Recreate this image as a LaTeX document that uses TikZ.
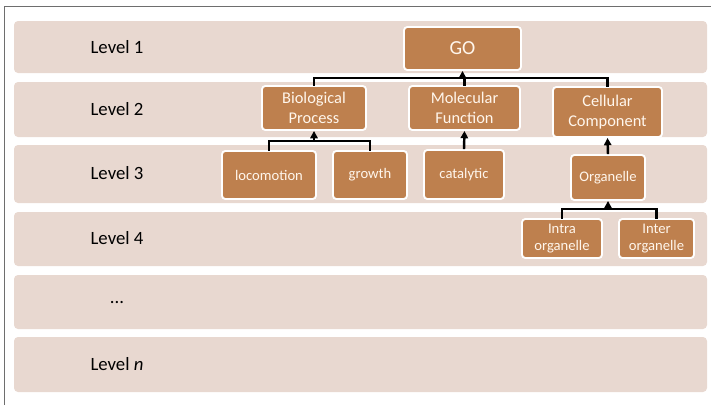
\documentclass[tikz,border=0pt]{standalone}
\usepackage{fontspec}
\setmainfont{Carlito}
\usepackage{tikz}
\usetikzlibrary{arrows.meta}

\definecolor{bandbg}{HTML}{E8D8D0}
\definecolor{gobrown}{HTML}{BE804E}
\definecolor{gotext}{HTML}{FFF6EC}
\definecolor{framegray}{HTML}{6E6E6E}

\begin{document}
\begin{tikzpicture}[x=0.3mm, y=-0.3mm,
  band/.style={fill=bandbg, rounded corners=1.2mm},
  lvl/.style={font=\fontsize{16}{19}\selectfont, text=black, inner sep=0pt},
  gobox/.style={draw=white, line width=1.6pt, fill=gobrown, rounded corners=1mm,
    text=gotext, align=center, inner sep=0pt, font=\fontsize{14}{16.5}\selectfont},
  leafbox/.style={gobox, font=\fontsize{12.5}{15}\selectfont},
  link/.style={line width=2.1pt, line cap=rect},
  arr/.style={line width=2.1pt, -{Triangle[length=2.2mm,width=2.2mm]}}]
  \useasboundingbox (0,0) rectangle (711,405);
  % frame and level bands
  \draw[framegray, line width=1pt] (4.5,405) -- (4.5,6.5) -- (711,6.5);
  \fill[band] (14,21) rectangle (707,73);
  \fill[band] (14,82) rectangle (707,137);
  \fill[band] (14,145) rectangle (707,203);
  \fill[band] (14,212) rectangle (707,266);
  \fill[band] (14,275) rectangle (707,329);
  \fill[band] (14,337) rectangle (707,392);
  \node[lvl] (lv1) at (117,47) {Level 1};
  \node[lvl] (lv2) at (117,109) {Level 2};
  \node[lvl] (lv3) at (117,173) {Level 3};
  \node[lvl] (lv4) at (117,238) {Level 4};
  \node[lvl] (lvdots) at (117,303) {...};
  \node[lvl] (lvn) at (117,364) {Level \textit{n}};
  % GO terms
  \node[gobox, font=\fontsize{17}{20}\selectfont, minimum width=117*0.3mm, minimum height=43*0.3mm] (go) at (462.5,48.5) {GO};
  \node[gobox, minimum width=104*0.3mm, minimum height=44*0.3mm] (bp) at (314,108) {Biological\\Process};
  \node[gobox, minimum width=111*0.3mm, minimum height=44*0.3mm] (mf) at (464.5,108) {Molecular\\Function};
  \node[gobox, minimum width=109*0.3mm, minimum height=50*0.3mm] (cc) at (607.5,112) {Cellular\\Component};
  \node[leafbox, minimum width=94*0.3mm, minimum height=48*0.3mm] (loco) at (269,175) {locomotion};
  \node[leafbox, minimum width=74*0.3mm, minimum height=48*0.3mm] (growth) at (370,175) {growth};
  \node[leafbox, minimum width=80*0.3mm, minimum height=49*0.3mm] (cat) at (464,174.5) {catalytic};
  \node[leafbox, minimum width=74*0.3mm, minimum height=45*0.3mm] (org) at (608,177.5) {Organelle};
  \node[leafbox, minimum width=80*0.3mm, minimum height=39*0.3mm] (intra) at (562,238.5) {Intra\\organelle};
  \node[leafbox, minimum width=75*0.3mm, minimum height=39*0.3mm] (inter) at (656.5,238.5) {Inter\\organelle};
  % is-a links
  \coordinate (l2bus) at (go.south |- 0,78);
  \coordinate (l3bus) at (bp.south |- 0,141);
  \coordinate (l4bus) at (org.south |- 0,209);
  \draw[link] (bp.north) |- (l2bus) -| (cc.north);
  \draw[link] (mf.north) -- (mf.north |- l2bus);
  \draw[arr] (l2bus) -- (go.south);
  \draw[link] (loco.north) |- (l3bus) -| (growth.north);
  \draw[arr] (l3bus) -- (bp.south);
  \draw[arr] (cat.north) -- (mf.south);
  \draw[arr] (org.north) -- (cc.south);
  \draw[link] (intra.north) |- (l4bus) -| (inter.north);
  \draw[arr] (l4bus) -- (org.south);
\end{tikzpicture}
\end{document}
